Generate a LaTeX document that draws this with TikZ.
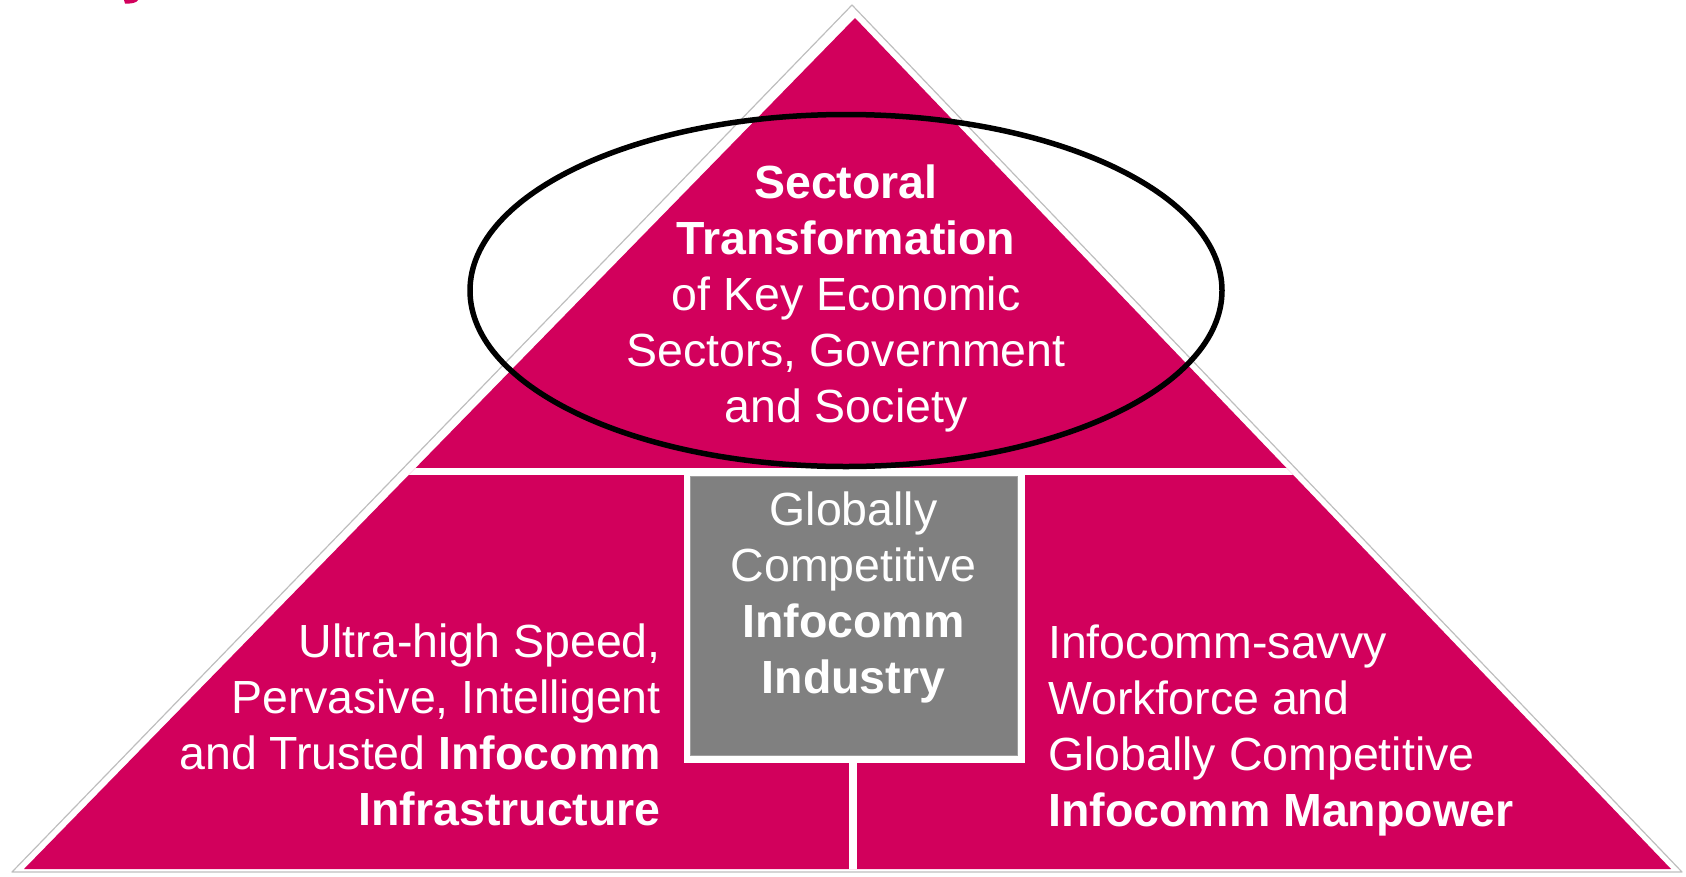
\documentclass[tikz,border=0pt]{standalone}
\usepackage{fontspec}
\setmainfont{Liberation Sans}
\definecolor{pyr}{RGB}{210,0,92}
\definecolor{boxgrey}{RGB}{128,128,128}
\definecolor{outl}{RGB}{190,190,190}
\begin{document}
\begin{tikzpicture}[x=1pt,y=-1pt,
  lbl/.style={text=white, inner sep=0pt, font=\fontsize{46.5}{56}\selectfont},
  outline/.style={draw=outl, line width=1.2pt, line join=round},
  greybox/.style={fill=boxgrey, draw=gray!75, line width=1pt, inner sep=0pt},
  ring/.style={draw=black, line width=5.5pt}]
\useasboundingbox (0,0) rectangle (1686,876);
% outer thin outline
\coordinate (oA) at (852,5);
\coordinate (oL) at (12,872);
\coordinate (oR) at (1682,872);
\draw[outline] (oA) -- (oL) -- (oR) -- cycle;
% pink pyramid
\coordinate (A) at (855,18);
\coordinate (L) at (24,869);
\coordinate (R) at (1671,869);
\fill[pyr] (A) -- (L) -- (R) -- cycle;
\begin{scope}
  \clip (A) -- (L) -- (R) -- cycle;
  \fill[white] (0,468) rectangle (1686,475);
  \fill[white] (684,475) rectangle (1025,763);
  \fill[white] (849,763) rectangle (857,876);
\end{scope}
% grey box
\node[greybox, minimum width=327pt, minimum height=279pt] (box) at (853.5,615.5) {};
% fragment of cut text at top left
\fill[pyr] (124,0) -- (138,0) .. controls (137,3) and (130,4) .. (125,3.5) -- cycle;
% ellipse
\draw[ring] (846,290.5) ellipse [x radius=376, y radius=176];
% texts
\node[lbl, align=center] (top) at (846,298)
  {\textbf{Sectoral}\\\textbf{Transformation}\\of Key Economic\\Sectors, Government\\and Society};
\node[lbl, align=center] (mid) at (853.5,597)
  {Globally\\Competitive\\\textbf{Infocomm}\\\textbf{Industry}};
\node[lbl, align=right, anchor=east] (left) at (661,725)
  {Ultra-high Speed,\\Pervasive, Intelligent\\and Trusted \textbf{Infocomm}\\\textbf{Infrastructure}};
\node[lbl, align=left, anchor=west] (right) at (1048,730)
  {Infocomm-savvy\\Workforce and\\Globally Competitive\\\textbf{Infocomm Manpower}};
\end{tikzpicture}
\end{document}
